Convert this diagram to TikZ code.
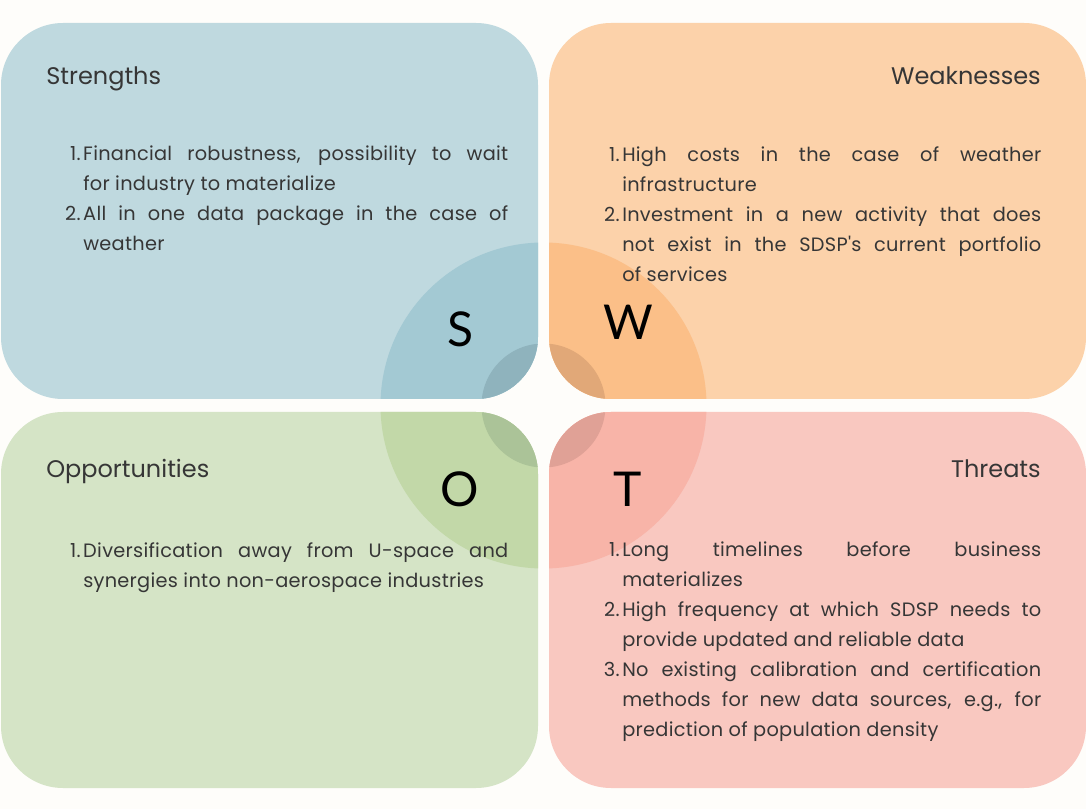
\documentclass[tikz,border=0pt]{standalone}
\usepackage{fontspec}
\setmainfont{Lato}
\newfontfamily\listfont{Poppins}[LetterSpace=1.5]
\newfontfamily\headfont{Poppins}
\definecolor{bg}{HTML}{FEFDFA}
\definecolor{sBox}{HTML}{BFD9DF}
\definecolor{sMid}{HTML}{A3C9D3}
\definecolor{sCore}{HTML}{8FB3BD}
\definecolor{wBox}{HTML}{FCD2AA}
\definecolor{wMid}{HTML}{FBBF88}
\definecolor{wCore}{HTML}{E1A878}
\definecolor{oBox}{HTML}{D5E4C6}
\definecolor{oMid}{HTML}{C2D8A8}
\definecolor{oCore}{HTML}{ABC398}
\definecolor{tBox}{HTML}{F9C8C0}
\definecolor{tMid}{HTML}{F8B4A8}
\definecolor{tCore}{HTML}{E0A196}
\definecolor{ink}{HTML}{363636}
% one numbered entry with hanging indent
\newcommand\swotitem[2]{\noindent\hangindent=15pt\hangafter=1\makebox[15pt][r]{#1\hspace{2pt}}#2\par}
\tikzset{
  title/.style={inner sep=0, text=ink, font=\headfont\fontsize{18pt}{22pt}\selectfont},
  bigletter/.style={inner sep=0, text=black, anchor=base, font=\fontsize{36pt}{40pt}\selectfont},
  leftlist/.style={inner sep=0, anchor=north west, text=ink, text width=333.75pt, align=justify,
    font=\listfont\fontsize{14.5pt}{22.5pt}\selectfont},
  rightlist/.style={inner sep=0, anchor=north west, text=ink, text width=329.25pt, align=justify,
    font=\listfont\fontsize{14.5pt}{22.5pt}\selectfont},
}
% quadrant: box colour, ring colour, core colour, corners, centre of the rings
\newcommand\quadrant[6]{%
  \fill[#1, rounded corners=46.5pt] (#4) rectangle (#5);
  \begin{scope}
    \clip[rounded corners=46.5pt] (#4) rectangle (#5);
    \fill[#2] (#6) circle[radius=163];
    \fill[#3] (#6) circle[radius=62];
  \end{scope}}
\begin{document}
\begin{tikzpicture}[x=0.75pt, y=-0.75pt]
\fill[bg] (0,0) rectangle (1086,809);
\useasboundingbox (0,0) rectangle (1086,809);
\coordinate (hub) at (543.5,405.5);
\quadrant{sBox}{sMid}{sCore}{1,23}{538,399}{hub}
\quadrant{wBox}{wMid}{wCore}{549,23}{1086,399}{hub}
\quadrant{oBox}{oMid}{oCore}{1,412}{538,788}{hub}
\quadrant{tBox}{tMid}{tCore}{549,412}{1086,788}{hub}

\node[title, anchor=base west] (sTitle) at (46,85) {Strengths};
\node[title, anchor=base east] (wTitle) at (1041,85) {Weaknesses};
\node[title, anchor=base west] (oTitle) at (46,477) {Opportunities};
\node[title, anchor=base east] (tTitle) at (1041,477) {Threats};

\node[bigletter] (sLetter) at (461,347) {S};
\node[bigletter] (wLetter) at (628,340) {W};
\node[bigletter] (oLetter) at (460,506) {O};
\node[bigletter] (tLetter) at (628,506) {T};

\node[leftlist] (sList) at (63,146) {%
  \swotitem{1.}{Financial robustness, possibility to wait\linebreak for industry to materialize}
  \swotitem{2.}{All in one data package in the case of\linebreak weather}};
\node[rightlist] (wList) at (602,146) {%
  \swotitem{1.}{High costs in the case of weather\linebreak infrastructure}
  \swotitem{2.}{Investment in a new activity that does\linebreak not exist in the SDSP's current portfolio\linebreak of services}};
\node[leftlist] (oList) at (63,542) {%
  \swotitem{1.}{Diversification away from U-space and\linebreak synergies into non-aerospace industries}};
\node[rightlist] (tList) at (602,541) {%
  \swotitem{1.}{Long timelines before business\linebreak materializes}
  \swotitem{2.}{High frequency at which SDSP needs to\linebreak provide updated and reliable data}
  \swotitem{3.}{No existing calibration and certification\linebreak methods for new data sources, e.g., for\linebreak prediction of population density}};
\end{tikzpicture}
\end{document}
